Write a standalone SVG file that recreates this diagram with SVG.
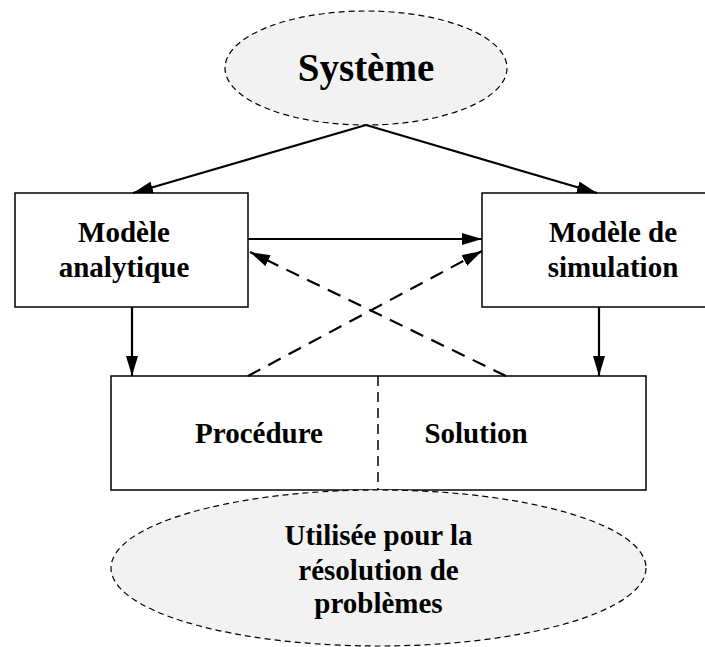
<svg xmlns="http://www.w3.org/2000/svg" width="705" height="647" viewBox="0 0 705 647">
<style>
.ell{fill:#f2f2f2;stroke:#000;stroke-width:1.2;stroke-dasharray:6 4}
.box{fill:#fff;stroke:#000;stroke-width:1.5}
.t{font-family:"Liberation Serif","Times New Roman",serif;font-weight:bold;fill:#000;text-anchor:middle;font-size:29px}
.c{stroke:#000;stroke-width:2.2;fill:none}
.d{stroke-dasharray:14 9}
</style>
<defs>
<marker id="a" viewBox="0 0 20 12" refX="20" refY="6" markerWidth="20" markerHeight="12" markerUnits="userSpaceOnUse" orient="auto">
<path d="M0,0 L20,6 L0,12 z" fill="#000"/>
</marker>
</defs>
<g id="systeme">
<ellipse class="ell" cx="366" cy="68" rx="141" ry="57"/>
<text class="t" x="366" y="81" style="font-size:39px">Système</text>
</g>
<g id="modele-analytique">
<rect class="box" x="15" y="193" width="233" height="114"/>
<text class="t" x="124" y="242">Modèle</text>
<text class="t" x="124" y="277">analytique</text>
</g>
<g id="modele-simulation">
<rect class="box" x="482" y="193" width="262" height="114"/>
<text class="t" x="613" y="242">Modèle de</text>
<text class="t" x="613" y="277">simulation</text>
</g>
<g id="procedure-solution">
<rect class="box" x="111" y="376" width="535" height="114"/>
<line x1="378" y1="376" x2="378" y2="490" stroke="#000" stroke-width="1.5" stroke-dasharray="10 6"/>
<text class="t" x="259" y="443">Procédure</text>
<text class="t" x="476" y="443">Solution</text>
</g>
<g id="utilisee">
<ellipse class="ell" cx="378.5" cy="568" rx="267.5" ry="78"/>
<text class="t" x="378.5" y="545">Utilisée pour la</text>
<text class="t" x="378.5" y="580">résolution de</text>
<text class="t" x="378.5" y="613">problèmes</text>
</g>
<g id="connectors">
<line class="c" x1="366" y1="125" x2="133" y2="193" marker-end="url(#a)"/>
<line class="c" x1="366" y1="125" x2="597" y2="193" marker-end="url(#a)"/>
<line class="c" x1="248" y1="239" x2="482" y2="239" marker-end="url(#a)"/>
<line class="c d" x1="248" y1="376" x2="482" y2="251" marker-end="url(#a)"/>
<line class="c d" x1="506" y1="376" x2="250" y2="252" marker-end="url(#a)"/>
<line class="c" x1="132" y1="307" x2="132" y2="376" marker-end="url(#a)"/>
<line class="c" x1="599" y1="307" x2="599" y2="376" marker-end="url(#a)"/>
</g>
</svg>
